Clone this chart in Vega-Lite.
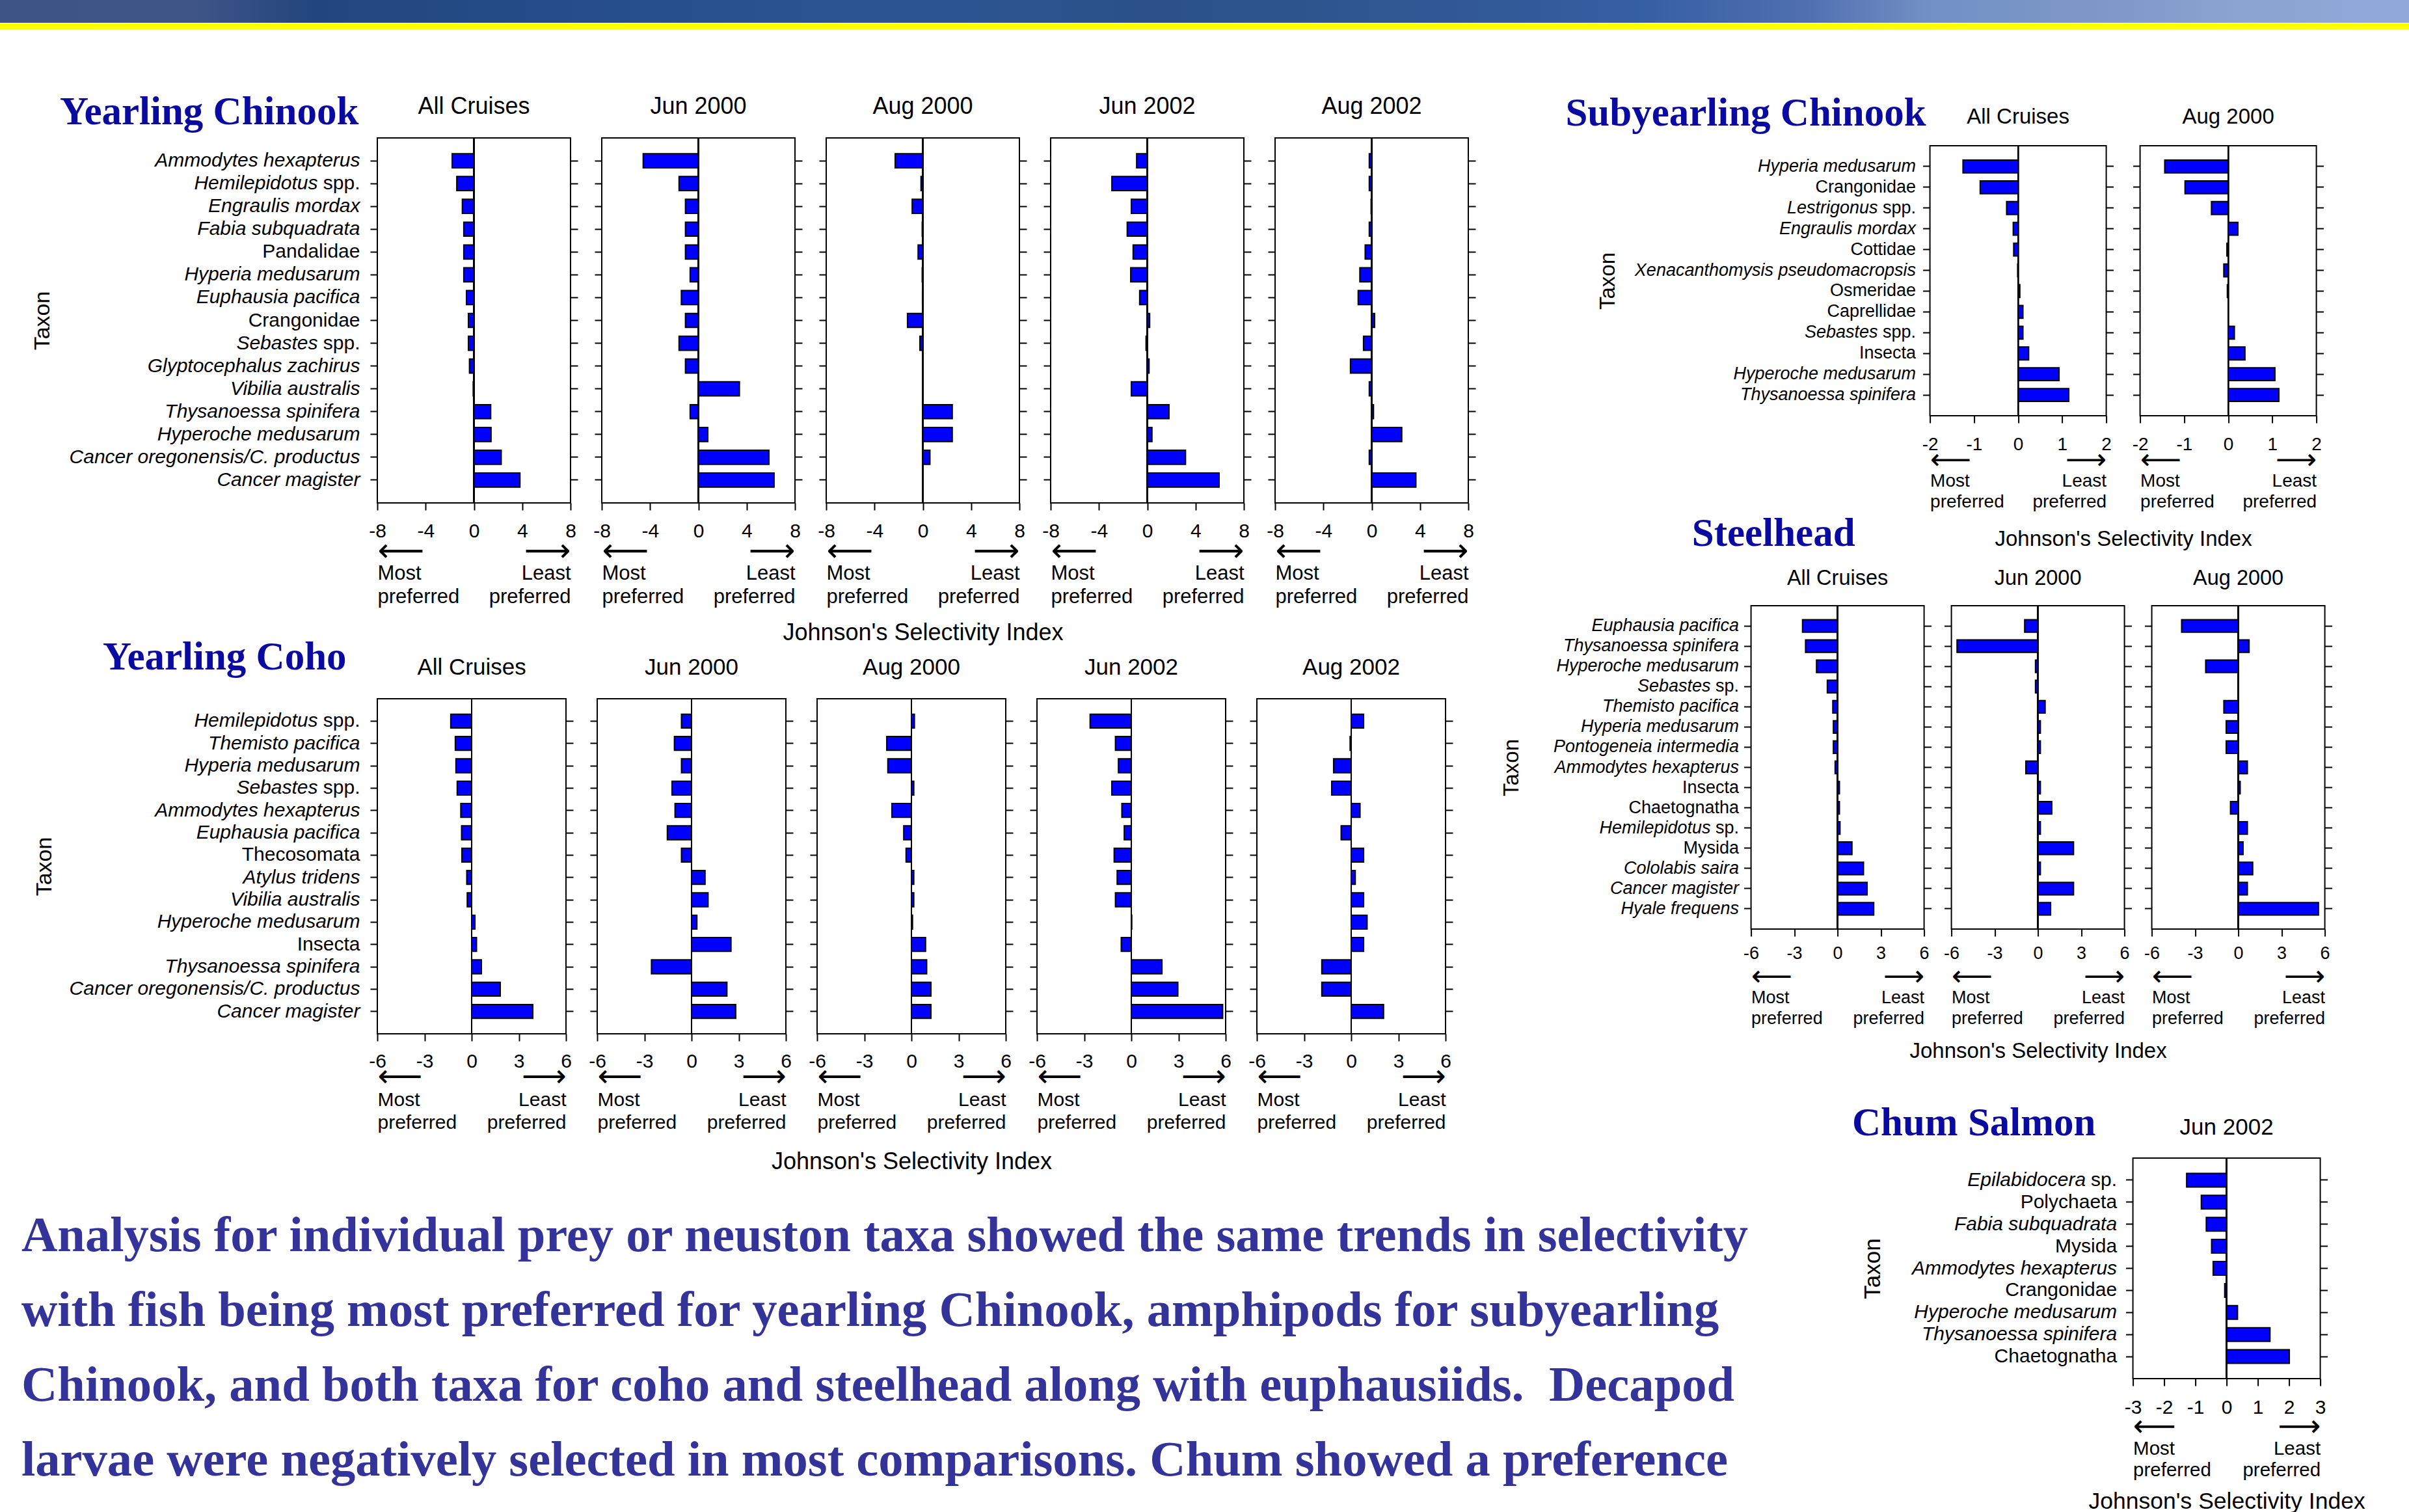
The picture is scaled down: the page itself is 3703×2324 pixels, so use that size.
{
  "$schema": "https://vega.github.io/schema/vega-lite/v6.json",
  "padding": 0,
  "background": "white",
  "config": {
    "view": {"stroke": "black", "strokeWidth": 2},
    "font": "Liberation Sans",
    "axis": {"domain": false, "grid": false, "ticks": true, "tickColor": "black", "tickWidth": 2, "tickSize": 11, "labelColor": "black", "labelFont": "Liberation Sans", "labelLimit": 0, "labelOverlap": false, "labelBound": false, "maxExtent": 1000, "titleFont": "Liberation Sans", "titleFontWeight": "normal", "titleColor": "black"},
    "title": {"font": "Liberation Sans", "fontWeight": "normal", "color": "black", "frame": "group", "anchor": "middle"},
    "scale": {"bandPaddingInner": 0.38, "barBandPaddingInner": 0.38, "bandPaddingOuter": 0.69}
  },
  "datasets": {
    "yearlingChinook": [
      {"cruise": "All Cruises", "taxon": "Ammodytes hexapterus", "jsi": -1.80},
      {"cruise": "All Cruises", "taxon": "Hemilepidotus spp.", "jsi": -1.42},
      {"cruise": "All Cruises", "taxon": "Engraulis mordax", "jsi": -0.96},
      {"cruise": "All Cruises", "taxon": "Fabia subquadrata", "jsi": -0.84},
      {"cruise": "All Cruises", "taxon": "Pandalidae", "jsi": -0.84},
      {"cruise": "All Cruises", "taxon": "Hyperia medusarum", "jsi": -0.84},
      {"cruise": "All Cruises", "taxon": "Euphausia pacifica", "jsi": -0.62},
      {"cruise": "All Cruises", "taxon": "Crangonidae", "jsi": -0.46},
      {"cruise": "All Cruises", "taxon": "Sebastes spp.", "jsi": -0.46},
      {"cruise": "All Cruises", "taxon": "Glyptocephalus zachirus", "jsi": -0.37},
      {"cruise": "All Cruises", "taxon": "Vibilia australis", "jsi": -0.06},
      {"cruise": "All Cruises", "taxon": "Thysanoessa spinifera", "jsi": 1.39},
      {"cruise": "All Cruises", "taxon": "Hyperoche medusarum", "jsi": 1.42},
      {"cruise": "All Cruises", "taxon": "Cancer oregonensis/C. productus", "jsi": 2.26},
      {"cruise": "All Cruises", "taxon": "Cancer magister", "jsi": 3.81},
      {"cruise": "Jun 2000", "taxon": "Ammodytes hexapterus", "jsi": -4.57},
      {"cruise": "Jun 2000", "taxon": "Hemilepidotus spp.", "jsi": -1.60},
      {"cruise": "Jun 2000", "taxon": "Engraulis mordax", "jsi": -1.07},
      {"cruise": "Jun 2000", "taxon": "Fabia subquadrata", "jsi": -1.07},
      {"cruise": "Jun 2000", "taxon": "Pandalidae", "jsi": -1.07},
      {"cruise": "Jun 2000", "taxon": "Hyperia medusarum", "jsi": -0.68},
      {"cruise": "Jun 2000", "taxon": "Euphausia pacifica", "jsi": -1.41},
      {"cruise": "Jun 2000", "taxon": "Crangonidae", "jsi": -1.07},
      {"cruise": "Jun 2000", "taxon": "Sebastes spp.", "jsi": -1.60},
      {"cruise": "Jun 2000", "taxon": "Glyptocephalus zachirus", "jsi": -1.07},
      {"cruise": "Jun 2000", "taxon": "Vibilia australis", "jsi": 3.40},
      {"cruise": "Jun 2000", "taxon": "Thysanoessa spinifera", "jsi": -0.68},
      {"cruise": "Jun 2000", "taxon": "Hyperoche medusarum", "jsi": 0.78},
      {"cruise": "Jun 2000", "taxon": "Cancer oregonensis/C. productus", "jsi": 5.84},
      {"cruise": "Jun 2000", "taxon": "Cancer magister", "jsi": 6.27},
      {"cruise": "Aug 2000", "taxon": "Ammodytes hexapterus", "jsi": -2.29},
      {"cruise": "Aug 2000", "taxon": "Hemilepidotus spp.", "jsi": -0.15},
      {"cruise": "Aug 2000", "taxon": "Engraulis mordax", "jsi": -0.88},
      {"cruise": "Aug 2000", "taxon": "Fabia subquadrata", "jsi": -0.05},
      {"cruise": "Aug 2000", "taxon": "Pandalidae", "jsi": -0.39},
      {"cruise": "Aug 2000", "taxon": "Hyperia medusarum", "jsi": -0.05},
      {"cruise": "Aug 2000", "taxon": "Euphausia pacifica", "jsi": -0.03},
      {"cruise": "Aug 2000", "taxon": "Crangonidae", "jsi": -1.27},
      {"cruise": "Aug 2000", "taxon": "Sebastes spp.", "jsi": -0.24},
      {"cruise": "Aug 2000", "taxon": "Glyptocephalus zachirus", "jsi": 0.0},
      {"cruise": "Aug 2000", "taxon": "Vibilia australis", "jsi": 0.0},
      {"cruise": "Aug 2000", "taxon": "Thysanoessa spinifera", "jsi": 2.44},
      {"cruise": "Aug 2000", "taxon": "Hyperoche medusarum", "jsi": 2.44},
      {"cruise": "Aug 2000", "taxon": "Cancer oregonensis/C. productus", "jsi": 0.59},
      {"cruise": "Aug 2000", "taxon": "Cancer magister", "jsi": 0.02},
      {"cruise": "Jun 2002", "taxon": "Ammodytes hexapterus", "jsi": -0.88},
      {"cruise": "Jun 2002", "taxon": "Hemilepidotus spp.", "jsi": -2.93},
      {"cruise": "Jun 2002", "taxon": "Engraulis mordax", "jsi": -1.32},
      {"cruise": "Jun 2002", "taxon": "Fabia subquadrata", "jsi": -1.66},
      {"cruise": "Jun 2002", "taxon": "Pandalidae", "jsi": -1.17},
      {"cruise": "Jun 2002", "taxon": "Hyperia medusarum", "jsi": -1.37},
      {"cruise": "Jun 2002", "taxon": "Euphausia pacifica", "jsi": -0.63},
      {"cruise": "Jun 2002", "taxon": "Crangonidae", "jsi": 0.20},
      {"cruise": "Jun 2002", "taxon": "Sebastes spp.", "jsi": -0.10},
      {"cruise": "Jun 2002", "taxon": "Glyptocephalus zachirus", "jsi": 0.15},
      {"cruise": "Jun 2002", "taxon": "Vibilia australis", "jsi": -1.32},
      {"cruise": "Jun 2002", "taxon": "Thysanoessa spinifera", "jsi": 1.80},
      {"cruise": "Jun 2002", "taxon": "Hyperoche medusarum", "jsi": 0.39},
      {"cruise": "Jun 2002", "taxon": "Cancer oregonensis/C. productus", "jsi": 3.17},
      {"cruise": "Jun 2002", "taxon": "Cancer magister", "jsi": 5.95},
      {"cruise": "Aug 2002", "taxon": "Ammodytes hexapterus", "jsi": -0.20},
      {"cruise": "Aug 2002", "taxon": "Hemilepidotus spp.", "jsi": -0.20},
      {"cruise": "Aug 2002", "taxon": "Engraulis mordax", "jsi": -0.05},
      {"cruise": "Aug 2002", "taxon": "Fabia subquadrata", "jsi": -0.20},
      {"cruise": "Aug 2002", "taxon": "Pandalidae", "jsi": -0.54},
      {"cruise": "Aug 2002", "taxon": "Hyperia medusarum", "jsi": -0.98},
      {"cruise": "Aug 2002", "taxon": "Euphausia pacifica", "jsi": -1.12},
      {"cruise": "Aug 2002", "taxon": "Crangonidae", "jsi": 0.24},
      {"cruise": "Aug 2002", "taxon": "Sebastes spp.", "jsi": -0.68},
      {"cruise": "Aug 2002", "taxon": "Glyptocephalus zachirus", "jsi": -1.76},
      {"cruise": "Aug 2002", "taxon": "Vibilia australis", "jsi": -0.20},
      {"cruise": "Aug 2002", "taxon": "Thysanoessa spinifera", "jsi": 0.15},
      {"cruise": "Aug 2002", "taxon": "Hyperoche medusarum", "jsi": 2.49},
      {"cruise": "Aug 2002", "taxon": "Cancer oregonensis/C. productus", "jsi": -0.20},
      {"cruise": "Aug 2002", "taxon": "Cancer magister", "jsi": 3.66}
    ],
    "yearlingCoho": [
      {"cruise": "All Cruises", "taxon": "Hemilepidotus spp.", "jsi": -1.33},
      {"cruise": "All Cruises", "taxon": "Themisto pacifica", "jsi": -1.04},
      {"cruise": "All Cruises", "taxon": "Hyperia medusarum", "jsi": -1.00},
      {"cruise": "All Cruises", "taxon": "Sebastes spp.", "jsi": -0.92},
      {"cruise": "All Cruises", "taxon": "Ammodytes hexapterus", "jsi": -0.69},
      {"cruise": "All Cruises", "taxon": "Euphausia pacifica", "jsi": -0.64},
      {"cruise": "All Cruises", "taxon": "Thecosomata", "jsi": -0.62},
      {"cruise": "All Cruises", "taxon": "Atylus tridens", "jsi": -0.31},
      {"cruise": "All Cruises", "taxon": "Vibilia australis", "jsi": -0.28},
      {"cruise": "All Cruises", "taxon": "Hyperoche medusarum", "jsi": 0.21},
      {"cruise": "All Cruises", "taxon": "Insecta", "jsi": 0.31},
      {"cruise": "All Cruises", "taxon": "Thysanoessa spinifera", "jsi": 0.62},
      {"cruise": "All Cruises", "taxon": "Cancer oregonensis/C. productus", "jsi": 1.82},
      {"cruise": "All Cruises", "taxon": "Cancer magister", "jsi": 3.89},
      {"cruise": "Jun 2000", "taxon": "Hemilepidotus spp.", "jsi": -0.64},
      {"cruise": "Jun 2000", "taxon": "Themisto pacifica", "jsi": -1.09},
      {"cruise": "Jun 2000", "taxon": "Hyperia medusarum", "jsi": -0.64},
      {"cruise": "Jun 2000", "taxon": "Sebastes spp.", "jsi": -1.24},
      {"cruise": "Jun 2000", "taxon": "Ammodytes hexapterus", "jsi": -1.05},
      {"cruise": "Jun 2000", "taxon": "Euphausia pacifica", "jsi": -1.54},
      {"cruise": "Jun 2000", "taxon": "Thecosomata", "jsi": -0.64},
      {"cruise": "Jun 2000", "taxon": "Atylus tridens", "jsi": 0.86},
      {"cruise": "Jun 2000", "taxon": "Vibilia australis", "jsi": 1.05},
      {"cruise": "Jun 2000", "taxon": "Hyperoche medusarum", "jsi": 0.34},
      {"cruise": "Jun 2000", "taxon": "Insecta", "jsi": 2.51},
      {"cruise": "Jun 2000", "taxon": "Thysanoessa spinifera", "jsi": -2.55},
      {"cruise": "Jun 2000", "taxon": "Cancer oregonensis/C. productus", "jsi": 2.25},
      {"cruise": "Jun 2000", "taxon": "Cancer magister", "jsi": 2.81},
      {"cruise": "Aug 2000", "taxon": "Hemilepidotus spp.", "jsi": 0.19},
      {"cruise": "Aug 2000", "taxon": "Themisto pacifica", "jsi": -1.57},
      {"cruise": "Aug 2000", "taxon": "Hyperia medusarum", "jsi": -1.50},
      {"cruise": "Aug 2000", "taxon": "Sebastes spp.", "jsi": 0.15},
      {"cruise": "Aug 2000", "taxon": "Ammodytes hexapterus", "jsi": -1.24},
      {"cruise": "Aug 2000", "taxon": "Euphausia pacifica", "jsi": -0.49},
      {"cruise": "Aug 2000", "taxon": "Thecosomata", "jsi": -0.34},
      {"cruise": "Aug 2000", "taxon": "Atylus tridens", "jsi": 0.15},
      {"cruise": "Aug 2000", "taxon": "Vibilia australis", "jsi": 0.15},
      {"cruise": "Aug 2000", "taxon": "Hyperoche medusarum", "jsi": 0.07},
      {"cruise": "Aug 2000", "taxon": "Insecta", "jsi": 0.90},
      {"cruise": "Aug 2000", "taxon": "Thysanoessa spinifera", "jsi": 0.97},
      {"cruise": "Aug 2000", "taxon": "Cancer oregonensis/C. productus", "jsi": 1.24},
      {"cruise": "Aug 2000", "taxon": "Cancer magister", "jsi": 1.24},
      {"cruise": "Jun 2002", "taxon": "Hemilepidotus spp.", "jsi": -2.62},
      {"cruise": "Jun 2002", "taxon": "Themisto pacifica", "jsi": -1.01},
      {"cruise": "Jun 2002", "taxon": "Hyperia medusarum", "jsi": -0.82},
      {"cruise": "Jun 2002", "taxon": "Sebastes spp.", "jsi": -1.24},
      {"cruise": "Jun 2002", "taxon": "Ammodytes hexapterus", "jsi": -0.60},
      {"cruise": "Jun 2002", "taxon": "Euphausia pacifica", "jsi": -0.45},
      {"cruise": "Jun 2002", "taxon": "Thecosomata", "jsi": -1.09},
      {"cruise": "Jun 2002", "taxon": "Atylus tridens", "jsi": -0.90},
      {"cruise": "Jun 2002", "taxon": "Vibilia australis", "jsi": -1.01},
      {"cruise": "Jun 2002", "taxon": "Hyperoche medusarum", "jsi": 0.03},
      {"cruise": "Jun 2002", "taxon": "Insecta", "jsi": -0.64},
      {"cruise": "Jun 2002", "taxon": "Thysanoessa spinifera", "jsi": 1.95},
      {"cruise": "Jun 2002", "taxon": "Cancer oregonensis/C. productus", "jsi": 2.96},
      {"cruise": "Jun 2002", "taxon": "Cancer magister", "jsi": 5.81},
      {"cruise": "Aug 2002", "taxon": "Hemilepidotus spp.", "jsi": 0.79},
      {"cruise": "Aug 2002", "taxon": "Themisto pacifica", "jsi": -0.07},
      {"cruise": "Aug 2002", "taxon": "Hyperia medusarum", "jsi": -1.12},
      {"cruise": "Aug 2002", "taxon": "Sebastes spp.", "jsi": -1.24},
      {"cruise": "Aug 2002", "taxon": "Ammodytes hexapterus", "jsi": 0.56},
      {"cruise": "Aug 2002", "taxon": "Euphausia pacifica", "jsi": -0.64},
      {"cruise": "Aug 2002", "taxon": "Thecosomata", "jsi": 0.79},
      {"cruise": "Aug 2002", "taxon": "Atylus tridens", "jsi": 0.26},
      {"cruise": "Aug 2002", "taxon": "Vibilia australis", "jsi": 0.79},
      {"cruise": "Aug 2002", "taxon": "Hyperoche medusarum", "jsi": 1.01},
      {"cruise": "Aug 2002", "taxon": "Insecta", "jsi": 0.79},
      {"cruise": "Aug 2002", "taxon": "Thysanoessa spinifera", "jsi": -1.87},
      {"cruise": "Aug 2002", "taxon": "Cancer oregonensis/C. productus", "jsi": -1.87},
      {"cruise": "Aug 2002", "taxon": "Cancer magister", "jsi": 2.06}
    ],
    "subyearlingChinook": [
      {"cruise": "All Cruises", "taxon": "Hyperia medusarum", "jsi": -1.25},
      {"cruise": "All Cruises", "taxon": "Crangonidae", "jsi": -0.86},
      {"cruise": "All Cruises", "taxon": "Lestrigonus spp.", "jsi": -0.26},
      {"cruise": "All Cruises", "taxon": "Engraulis mordax", "jsi": -0.11},
      {"cruise": "All Cruises", "taxon": "Cottidae", "jsi": -0.10},
      {"cruise": "All Cruises", "taxon": "Xenacanthomysis pseudomacropsis", "jsi": -0.01},
      {"cruise": "All Cruises", "taxon": "Osmeridae", "jsi": 0.04},
      {"cruise": "All Cruises", "taxon": "Caprellidae", "jsi": 0.11},
      {"cruise": "All Cruises", "taxon": "Sebastes spp.", "jsi": 0.11},
      {"cruise": "All Cruises", "taxon": "Insecta", "jsi": 0.24},
      {"cruise": "All Cruises", "taxon": "Hyperoche medusarum", "jsi": 0.93},
      {"cruise": "All Cruises", "taxon": "Thysanoessa spinifera", "jsi": 1.15},
      {"cruise": "Aug 2000", "taxon": "Hyperia medusarum", "jsi": -1.44},
      {"cruise": "Aug 2000", "taxon": "Crangonidae", "jsi": -0.98},
      {"cruise": "Aug 2000", "taxon": "Lestrigonus spp.", "jsi": -0.38},
      {"cruise": "Aug 2000", "taxon": "Engraulis mordax", "jsi": 0.22},
      {"cruise": "Aug 2000", "taxon": "Cottidae", "jsi": -0.03},
      {"cruise": "Aug 2000", "taxon": "Xenacanthomysis pseudomacropsis", "jsi": -0.10},
      {"cruise": "Aug 2000", "taxon": "Osmeridae", "jsi": -0.02},
      {"cruise": "Aug 2000", "taxon": "Caprellidae", "jsi": 0.0},
      {"cruise": "Aug 2000", "taxon": "Sebastes spp.", "jsi": 0.14},
      {"cruise": "Aug 2000", "taxon": "Insecta", "jsi": 0.38},
      {"cruise": "Aug 2000", "taxon": "Hyperoche medusarum", "jsi": 1.06},
      {"cruise": "Aug 2000", "taxon": "Thysanoessa spinifera", "jsi": 1.15}
    ],
    "steelhead": [
      {"cruise": "All Cruises", "taxon": "Euphausia pacifica", "jsi": -2.43},
      {"cruise": "All Cruises", "taxon": "Thysanoessa spinifera", "jsi": -2.22},
      {"cruise": "All Cruises", "taxon": "Hyperoche medusarum", "jsi": -1.46},
      {"cruise": "All Cruises", "taxon": "Sebastes sp.", "jsi": -0.71},
      {"cruise": "All Cruises", "taxon": "Themisto pacifica", "jsi": -0.33},
      {"cruise": "All Cruises", "taxon": "Hyperia medusarum", "jsi": -0.29},
      {"cruise": "All Cruises", "taxon": "Pontogeneia intermedia", "jsi": -0.29},
      {"cruise": "All Cruises", "taxon": "Ammodytes hexapterus", "jsi": -0.17},
      {"cruise": "All Cruises", "taxon": "Insecta", "jsi": 0.13},
      {"cruise": "All Cruises", "taxon": "Chaetognatha", "jsi": 0.13},
      {"cruise": "All Cruises", "taxon": "Hemilepidotus sp.", "jsi": 0.17},
      {"cruise": "All Cruises", "taxon": "Mysida", "jsi": 1.00},
      {"cruise": "All Cruises", "taxon": "Cololabis saira", "jsi": 1.80},
      {"cruise": "All Cruises", "taxon": "Cancer magister", "jsi": 2.05},
      {"cruise": "All Cruises", "taxon": "Hyale frequens", "jsi": 2.51},
      {"cruise": "Jun 2000", "taxon": "Euphausia pacifica", "jsi": -0.92},
      {"cruise": "Jun 2000", "taxon": "Thysanoessa spinifera", "jsi": -5.61},
      {"cruise": "Jun 2000", "taxon": "Hyperoche medusarum", "jsi": -0.17},
      {"cruise": "Jun 2000", "taxon": "Sebastes sp.", "jsi": -0.17},
      {"cruise": "Jun 2000", "taxon": "Themisto pacifica", "jsi": 0.50},
      {"cruise": "Jun 2000", "taxon": "Hyperia medusarum", "jsi": 0.17},
      {"cruise": "Jun 2000", "taxon": "Pontogeneia intermedia", "jsi": 0.17},
      {"cruise": "Jun 2000", "taxon": "Ammodytes hexapterus", "jsi": -0.84},
      {"cruise": "Jun 2000", "taxon": "Insecta", "jsi": 0.17},
      {"cruise": "Jun 2000", "taxon": "Chaetognatha", "jsi": 0.96},
      {"cruise": "Jun 2000", "taxon": "Hemilepidotus sp.", "jsi": 0.17},
      {"cruise": "Jun 2000", "taxon": "Mysida", "jsi": 2.47},
      {"cruise": "Jun 2000", "taxon": "Cololabis saira", "jsi": 0.17},
      {"cruise": "Jun 2000", "taxon": "Cancer magister", "jsi": 2.47},
      {"cruise": "Jun 2000", "taxon": "Hyale frequens", "jsi": 0.88},
      {"cruise": "Aug 2000", "taxon": "Euphausia pacifica", "jsi": -3.93},
      {"cruise": "Aug 2000", "taxon": "Thysanoessa spinifera", "jsi": 0.75},
      {"cruise": "Aug 2000", "taxon": "Hyperoche medusarum", "jsi": -2.26},
      {"cruise": "Aug 2000", "taxon": "Sebastes sp.", "jsi": 0.0},
      {"cruise": "Aug 2000", "taxon": "Themisto pacifica", "jsi": -1.00},
      {"cruise": "Aug 2000", "taxon": "Hyperia medusarum", "jsi": -0.84},
      {"cruise": "Aug 2000", "taxon": "Pontogeneia intermedia", "jsi": -0.84},
      {"cruise": "Aug 2000", "taxon": "Ammodytes hexapterus", "jsi": 0.63},
      {"cruise": "Aug 2000", "taxon": "Insecta", "jsi": 0.13},
      {"cruise": "Aug 2000", "taxon": "Chaetognatha", "jsi": -0.54},
      {"cruise": "Aug 2000", "taxon": "Hemilepidotus sp.", "jsi": 0.63},
      {"cruise": "Aug 2000", "taxon": "Mysida", "jsi": 0.33},
      {"cruise": "Aug 2000", "taxon": "Cololabis saira", "jsi": 1.00},
      {"cruise": "Aug 2000", "taxon": "Cancer magister", "jsi": 0.63},
      {"cruise": "Aug 2000", "taxon": "Hyale frequens", "jsi": 5.56}
    ],
    "chumSalmon": [
      {"cruise": "Jun 2002", "taxon": "Epilabidocera sp.", "jsi": -1.28},
      {"cruise": "Jun 2002", "taxon": "Polychaeta", "jsi": -0.81},
      {"cruise": "Jun 2002", "taxon": "Fabia subquadrata", "jsi": -0.65},
      {"cruise": "Jun 2002", "taxon": "Mysida", "jsi": -0.48},
      {"cruise": "Jun 2002", "taxon": "Ammodytes hexapterus", "jsi": -0.43},
      {"cruise": "Jun 2002", "taxon": "Crangonidae", "jsi": -0.06},
      {"cruise": "Jun 2002", "taxon": "Hyperoche medusarum", "jsi": 0.35},
      {"cruise": "Jun 2002", "taxon": "Thysanoessa spinifera", "jsi": 1.39},
      {"cruise": "Jun 2002", "taxon": "Chaetognatha", "jsi": 2.01}
    ]
  },
  "spacing": 97,
  "vconcat": [
    {
      "spacing": 1,
      "vconcat": [
        {"width": 3703, "height": 35, "view": {"stroke": null}, "data": {"values": [{}]},
         "mark": {"type": "rect", "color": {"gradient": "linear", "x1": 0, "y1": 0, "x2": 1, "y2": 0, "stops": [
           {"offset": 0, "color": "#3d5485"}, {"offset": 0.08, "color": "#3f5587"}, {"offset": 0.13, "color": "#22457d"},
           {"offset": 0.25, "color": "#264e8b"}, {"offset": 0.37, "color": "#2b5592"}, {"offset": 0.48, "color": "#2c5189"},
           {"offset": 0.6, "color": "#315894"}, {"offset": 0.68, "color": "#355fa3"}, {"offset": 0.75, "color": "#506fb0"},
           {"offset": 0.8, "color": "#7190c4"}, {"offset": 0.88, "color": "#7f99c8"}, {"offset": 0.93, "color": "#8ba4d2"},
           {"offset": 1, "color": "#90a9d8"}]}},
         "encoding": {}},
        {"width": 3703, "height": 9, "view": {"stroke": null}, "data": {"values": [{}]},
         "mark": {"type": "rect", "color": "#FFFF00"}, "encoding": {}}
      ]
    },
    {
      "title": {
        "text": [
          "Analysis for individual prey or neuston taxa showed the same trends in selectivity",
          "with fish being most preferred for yearling Chinook, amphipods for subyearling",
          "Chinook, and both taxa for coho and steelhead along with euphausiids.\u00a0 Decapod",
          "larvae were negatively selected in most comparisons. Chum showed a preference"
        ],
        "orient": "bottom", "anchor": "start", "frame": "bounds", "offset": 0, "dx": 33, "dy": -465,
        "font": "Liberation Serif", "fontSize": 76.6, "fontWeight": "bold", "color": "#333399", "lineHeight": 115
      },
      "spacing": 0,
      "hconcat": [
        {"width": 47, "height": 1, "view": {"stroke": null}, "data": {"values": []}, "mark": "point"},
        {
          "spacing": 35.6,
          "hconcat": [
            {
              "spacing": -11,
              "vconcat": [
                {
                  "title": {"text": "Yearling Chinook", "orient": "top", "anchor": "start", "frame": "bounds", "offset": 0, "dx": 45, "dy": 59, "font": "Liberation Serif", "fontSize": 61, "fontWeight": "bold", "color": "#0A0AA0"},
                  "bounds": "flush",
                  "spacing": 48,
                  "hconcat": [
                    {
                      "width": 297, "height": 561,
                      "title": {"text": "All Cruises", "fontSize": 36, "offset": 28},
                      "data": {"name": "yearlingChinook"},
                      "transform": [{"filter": "datum.cruise == 'All Cruises'"}],
                      "resolve": {"axis": {"x": "independent", "y": "independent"}},
                      "layer": [
                        {"mark": {"type": "rule", "color": "black", "strokeWidth": 2}, "encoding": {"x": {"datum": 0, "type": "quantitative", "axis": null}}},
                        {"mark": {"type": "bar", "fill": "#0000FF", "stroke": "black", "strokeWidth": 2},
                         "encoding": {
                           "y": {"field": "taxon", "type": "nominal", "sort": null, "axis": {"title": "Taxon", "titleFontSize": 34, "titlePadding": 24, "labelFontSize": 30,
                             "labelPadding": {"condition": [{"test": "slice(datum.value, -4) == 'spp.'", "value": 81}, {"test": "slice(datum.value, -3) == 'sp.'", "value": 64}], "value": 16},
                             "labelExpr": "slice(datum.label, -4) == 'spp.' || slice(datum.label, -3) == 'sp.' ? split(datum.label, ' ')[0] : datum.label",
                             "labelFontStyle": {"condition": {"test": "indexof(['Pandalidae','Crangonidae','Thecosomata','Insecta','Cottidae','Osmeridae','Caprellidae','Chaetognatha','Mysida','Polychaeta'], datum.value) >= 0", "value": "normal"}, "value": "italic"}}},
                           "x": {"field": "jsi", "type": "quantitative", "scale": {"domain": [-8, 8], "nice": false}, "axis": {"values": [-8, -4, 0, 4, 8], "labelExpr": "datum.value + ''", "labelFontSize": 30, "labelPadding": 17, "labelFlush": false, "title": null}}
                         }},
                        {"mark": {"type": "bar", "opacity": 0},
                         "encoding": {
                           "y": {"field": "taxon", "type": "nominal", "sort": null, "axis": {"orient": "right", "labels": false, "title": null}},
                           "x": {"field": "jsi", "type": "quantitative", "axis": {"orient": "bottom", "values": [-8, 8], "offset": 74, "ticks": false, "tickSize": 0, "labelPadding": 0, "labelBaseline": "middle", "labelFlush": true, "labelFont": "DejaVu Sans", "labelFontSize": 50, "labelExpr": "datum.value < 0 ? '⟵' : '⟶'", "title": null}}
                         }},
                        {"mark": {"type": "bar", "opacity": 0},
                         "encoding": {
                           "y": {"field": "taxon", "type": "nominal", "sort": null, "axis": {"orient": "left", "tickOpacity": 0, "labelFontSize": 30, "labelPadding": 16, "labelFontStyle": "normal", "labelExpr": "slice(datum.label, -4) == 'spp.' ? 'spp.' : slice(datum.label, -3) == 'sp.' ? 'sp.' : ''", "title": null}},
                           "x": {"field": "jsi", "type": "quantitative", "axis": {"orient": "bottom", "values": [-8, 8], "offset": 108, "ticks": false, "tickSize": 0, "labelPadding": 0, "labelBaseline": "middle", "labelFlush": true, "labelFontSize": 31, "labelLineHeight": 36, "labelExpr": "datum.value < 0 ? ['Most', 'preferred'] : ['Least', 'preferred']", "title": null}}
                         }}
                      ]
                    },
                    {
                      "width": 297, "height": 561,
                      "title": {"text": "Jun 2000", "fontSize": 36, "offset": 28},
                      "data": {"name": "yearlingChinook"},
                      "transform": [{"filter": "datum.cruise == 'Jun 2000'"}],
                      "resolve": {"axis": {"x": "independent", "y": "independent"}},
                      "layer": [
                        {"mark": {"type": "rule", "color": "black", "strokeWidth": 2}, "encoding": {"x": {"datum": 0, "type": "quantitative", "axis": null}}},
                        {"mark": {"type": "bar", "fill": "#0000FF", "stroke": "black", "strokeWidth": 2},
                         "encoding": {
                           "y": {"field": "taxon", "type": "nominal", "sort": null, "axis": {"labels": false, "title": null}},
                           "x": {"field": "jsi", "type": "quantitative", "scale": {"domain": [-8, 8], "nice": false}, "axis": {"values": [-8, -4, 0, 4, 8], "labelExpr": "datum.value + ''", "labelFontSize": 30, "labelPadding": 17, "labelFlush": false, "title": null}}
                         }},
                        {"mark": {"type": "bar", "opacity": 0},
                         "encoding": {
                           "y": {"field": "taxon", "type": "nominal", "sort": null, "axis": {"orient": "right", "labels": false, "title": null}},
                           "x": {"field": "jsi", "type": "quantitative", "axis": {"orient": "bottom", "values": [-8, 8], "offset": 74, "ticks": false, "tickSize": 0, "labelPadding": 0, "labelBaseline": "middle", "labelFlush": true, "labelFont": "DejaVu Sans", "labelFontSize": 50, "labelExpr": "datum.value < 0 ? '⟵' : '⟶'", "title": null}}
                         }},
                        {"mark": {"type": "bar", "opacity": 0},
                         "encoding": {
                           "y": {"field": "taxon", "type": "nominal", "sort": null, "axis": null},
                           "x": {"field": "jsi", "type": "quantitative", "axis": {"orient": "bottom", "values": [-8, 8], "offset": 108, "ticks": false, "tickSize": 0, "labelPadding": 0, "labelBaseline": "middle", "labelFlush": true, "labelFontSize": 31, "labelLineHeight": 36, "labelExpr": "datum.value < 0 ? ['Most', 'preferred'] : ['Least', 'preferred']", "title": null}}
                         }}
                      ]
                    },
                    {
                      "width": 297, "height": 561,
                      "title": {"text": "Aug 2000", "fontSize": 36, "offset": 28},
                      "data": {"name": "yearlingChinook"},
                      "transform": [{"filter": "datum.cruise == 'Aug 2000'"}],
                      "resolve": {"axis": {"x": "independent", "y": "independent"}},
                      "layer": [
                        {"mark": {"type": "rule", "color": "black", "strokeWidth": 2}, "encoding": {"x": {"datum": 0, "type": "quantitative", "axis": null}}},
                        {"mark": {"type": "bar", "fill": "#0000FF", "stroke": "black", "strokeWidth": 2},
                         "encoding": {
                           "y": {"field": "taxon", "type": "nominal", "sort": null, "axis": {"labels": false, "title": null}},
                           "x": {"field": "jsi", "type": "quantitative", "scale": {"domain": [-8, 8], "nice": false}, "axis": {"values": [-8, -4, 0, 4, 8], "labelExpr": "datum.value + ''", "labelFontSize": 30, "labelPadding": 17, "labelFlush": false, "title": "Johnson's Selectivity Index", "titleFontSize": 36, "titlePadding": 124}}
                         }},
                        {"mark": {"type": "bar", "opacity": 0},
                         "encoding": {
                           "y": {"field": "taxon", "type": "nominal", "sort": null, "axis": {"orient": "right", "labels": false, "title": null}},
                           "x": {"field": "jsi", "type": "quantitative", "axis": {"orient": "bottom", "values": [-8, 8], "offset": 74, "ticks": false, "tickSize": 0, "labelPadding": 0, "labelBaseline": "middle", "labelFlush": true, "labelFont": "DejaVu Sans", "labelFontSize": 50, "labelExpr": "datum.value < 0 ? '⟵' : '⟶'", "title": null}}
                         }},
                        {"mark": {"type": "bar", "opacity": 0},
                         "encoding": {
                           "y": {"field": "taxon", "type": "nominal", "sort": null, "axis": null},
                           "x": {"field": "jsi", "type": "quantitative", "axis": {"orient": "bottom", "values": [-8, 8], "offset": 108, "ticks": false, "tickSize": 0, "labelPadding": 0, "labelBaseline": "middle", "labelFlush": true, "labelFontSize": 31, "labelLineHeight": 36, "labelExpr": "datum.value < 0 ? ['Most', 'preferred'] : ['Least', 'preferred']", "title": null}}
                         }}
                      ]
                    },
                    {
                      "width": 297, "height": 561,
                      "title": {"text": "Jun 2002", "fontSize": 36, "offset": 28},
                      "data": {"name": "yearlingChinook"},
                      "transform": [{"filter": "datum.cruise == 'Jun 2002'"}],
                      "resolve": {"axis": {"x": "independent", "y": "independent"}},
                      "layer": [
                        {"mark": {"type": "rule", "color": "black", "strokeWidth": 2}, "encoding": {"x": {"datum": 0, "type": "quantitative", "axis": null}}},
                        {"mark": {"type": "bar", "fill": "#0000FF", "stroke": "black", "strokeWidth": 2},
                         "encoding": {
                           "y": {"field": "taxon", "type": "nominal", "sort": null, "axis": {"labels": false, "title": null}},
                           "x": {"field": "jsi", "type": "quantitative", "scale": {"domain": [-8, 8], "nice": false}, "axis": {"values": [-8, -4, 0, 4, 8], "labelExpr": "datum.value + ''", "labelFontSize": 30, "labelPadding": 17, "labelFlush": false, "title": null}}
                         }},
                        {"mark": {"type": "bar", "opacity": 0},
                         "encoding": {
                           "y": {"field": "taxon", "type": "nominal", "sort": null, "axis": {"orient": "right", "labels": false, "title": null}},
                           "x": {"field": "jsi", "type": "quantitative", "axis": {"orient": "bottom", "values": [-8, 8], "offset": 74, "ticks": false, "tickSize": 0, "labelPadding": 0, "labelBaseline": "middle", "labelFlush": true, "labelFont": "DejaVu Sans", "labelFontSize": 50, "labelExpr": "datum.value < 0 ? '⟵' : '⟶'", "title": null}}
                         }},
                        {"mark": {"type": "bar", "opacity": 0},
                         "encoding": {
                           "y": {"field": "taxon", "type": "nominal", "sort": null, "axis": null},
                           "x": {"field": "jsi", "type": "quantitative", "axis": {"orient": "bottom", "values": [-8, 8], "offset": 108, "ticks": false, "tickSize": 0, "labelPadding": 0, "labelBaseline": "middle", "labelFlush": true, "labelFontSize": 31, "labelLineHeight": 36, "labelExpr": "datum.value < 0 ? ['Most', 'preferred'] : ['Least', 'preferred']", "title": null}}
                         }}
                      ]
                    },
                    {
                      "width": 297, "height": 561,
                      "title": {"text": "Aug 2002", "fontSize": 36, "offset": 28},
                      "data": {"name": "yearlingChinook"},
                      "transform": [{"filter": "datum.cruise == 'Aug 2002'"}],
                      "resolve": {"axis": {"x": "independent", "y": "independent"}},
                      "layer": [
                        {"mark": {"type": "rule", "color": "black", "strokeWidth": 2}, "encoding": {"x": {"datum": 0, "type": "quantitative", "axis": null}}},
                        {"mark": {"type": "bar", "fill": "#0000FF", "stroke": "black", "strokeWidth": 2},
                         "encoding": {
                           "y": {"field": "taxon", "type": "nominal", "sort": null, "axis": {"labels": false, "title": null}},
                           "x": {"field": "jsi", "type": "quantitative", "scale": {"domain": [-8, 8], "nice": false}, "axis": {"values": [-8, -4, 0, 4, 8], "labelExpr": "datum.value + ''", "labelFontSize": 30, "labelPadding": 17, "labelFlush": false, "title": null}}
                         }},
                        {"mark": {"type": "bar", "opacity": 0},
                         "encoding": {
                           "y": {"field": "taxon", "type": "nominal", "sort": null, "axis": {"orient": "right", "labels": false, "title": null}},
                           "x": {"field": "jsi", "type": "quantitative", "axis": {"orient": "bottom", "values": [-8, 8], "offset": 74, "ticks": false, "tickSize": 0, "labelPadding": 0, "labelBaseline": "middle", "labelFlush": true, "labelFont": "DejaVu Sans", "labelFontSize": 50, "labelExpr": "datum.value < 0 ? '⟵' : '⟶'", "title": null}}
                         }},
                        {"mark": {"type": "bar", "opacity": 0},
                         "encoding": {
                           "y": {"field": "taxon", "type": "nominal", "sort": null, "axis": null},
                           "x": {"field": "jsi", "type": "quantitative", "axis": {"orient": "bottom", "values": [-8, 8], "offset": 108, "ticks": false, "tickSize": 0, "labelPadding": 0, "labelBaseline": "middle", "labelFlush": true, "labelFontSize": 31, "labelLineHeight": 36, "labelExpr": "datum.value < 0 ? ['Most', 'preferred'] : ['Least', 'preferred']", "title": null}}
                         }}
                      ]
                    }
                  ]
                },
                {
                  "title": {"text": "Yearling Coho", "orient": "top", "anchor": "start", "frame": "bounds", "offset": 0, "dx": 108, "dy": 34, "font": "Liberation Serif", "fontSize": 61, "fontWeight": "bold", "color": "#0A0AA0"},
                  "bounds": "flush",
                  "spacing": 48,
                  "hconcat": [
                    {
                      "width": 290, "height": 515,
                      "title": {"text": "All Cruises", "fontSize": 35, "offset": 29},
                      "data": {"name": "yearlingCoho"},
                      "transform": [{"filter": "datum.cruise == 'All Cruises'"}],
                      "resolve": {"axis": {"x": "independent", "y": "independent"}},
                      "layer": [
                        {"mark": {"type": "rule", "color": "black", "strokeWidth": 2}, "encoding": {"x": {"datum": 0, "type": "quantitative", "axis": null}}},
                        {"mark": {"type": "bar", "fill": "#0000FF", "stroke": "black", "strokeWidth": 2},
                         "encoding": {
                           "y": {"field": "taxon", "type": "nominal", "sort": null, "axis": {"title": "Taxon", "titleFontSize": 34, "titlePadding": 21, "labelFontSize": 30,
                             "labelPadding": {"condition": [{"test": "slice(datum.value, -4) == 'spp.'", "value": 81}, {"test": "slice(datum.value, -3) == 'sp.'", "value": 64}], "value": 16},
                             "labelExpr": "slice(datum.label, -4) == 'spp.' || slice(datum.label, -3) == 'sp.' ? split(datum.label, ' ')[0] : datum.label",
                             "labelFontStyle": {"condition": {"test": "indexof(['Pandalidae','Crangonidae','Thecosomata','Insecta','Cottidae','Osmeridae','Caprellidae','Chaetognatha','Mysida','Polychaeta'], datum.value) >= 0", "value": "normal"}, "value": "italic"}}},
                           "x": {"field": "jsi", "type": "quantitative", "scale": {"domain": [-6, 6], "nice": false}, "axis": {"values": [-6, -3, 0, 3, 6], "labelExpr": "datum.value + ''", "labelFontSize": 30, "labelPadding": 16, "labelFlush": false, "title": null}}
                         }},
                        {"mark": {"type": "bar", "opacity": 0},
                         "encoding": {
                           "y": {"field": "taxon", "type": "nominal", "sort": null, "axis": {"orient": "right", "labels": false, "title": null}},
                           "x": {"field": "jsi", "type": "quantitative", "axis": {"orient": "bottom", "values": [-6, 6], "offset": 66, "ticks": false, "tickSize": 0, "labelPadding": 0, "labelBaseline": "middle", "labelFlush": true, "labelFont": "DejaVu Sans", "labelFontSize": 48, "labelExpr": "datum.value < 0 ? '⟵' : '⟶'", "title": null}}
                         }},
                        {"mark": {"type": "bar", "opacity": 0},
                         "encoding": {
                           "y": {"field": "taxon", "type": "nominal", "sort": null, "axis": {"orient": "left", "tickOpacity": 0, "labelFontSize": 30, "labelPadding": 16, "labelFontStyle": "normal", "labelExpr": "slice(datum.label, -4) == 'spp.' ? 'spp.' : slice(datum.label, -3) == 'sp.' ? 'sp.' : ''", "title": null}},
                           "x": {"field": "jsi", "type": "quantitative", "axis": {"orient": "bottom", "values": [-6, 6], "offset": 101, "ticks": false, "tickSize": 0, "labelPadding": 0, "labelBaseline": "middle", "labelFlush": true, "labelFontSize": 30, "labelLineHeight": 35, "labelExpr": "datum.value < 0 ? ['Most', 'preferred'] : ['Least', 'preferred']", "title": null}}
                         }}
                      ]
                    },
                    {
                      "width": 290, "height": 515,
                      "title": {"text": "Jun 2000", "fontSize": 35, "offset": 29},
                      "data": {"name": "yearlingCoho"},
                      "transform": [{"filter": "datum.cruise == 'Jun 2000'"}],
                      "resolve": {"axis": {"x": "independent", "y": "independent"}},
                      "layer": [
                        {"mark": {"type": "rule", "color": "black", "strokeWidth": 2}, "encoding": {"x": {"datum": 0, "type": "quantitative", "axis": null}}},
                        {"mark": {"type": "bar", "fill": "#0000FF", "stroke": "black", "strokeWidth": 2},
                         "encoding": {
                           "y": {"field": "taxon", "type": "nominal", "sort": null, "axis": {"labels": false, "title": null}},
                           "x": {"field": "jsi", "type": "quantitative", "scale": {"domain": [-6, 6], "nice": false}, "axis": {"values": [-6, -3, 0, 3, 6], "labelExpr": "datum.value + ''", "labelFontSize": 30, "labelPadding": 16, "labelFlush": false, "title": null}}
                         }},
                        {"mark": {"type": "bar", "opacity": 0},
                         "encoding": {
                           "y": {"field": "taxon", "type": "nominal", "sort": null, "axis": {"orient": "right", "labels": false, "title": null}},
                           "x": {"field": "jsi", "type": "quantitative", "axis": {"orient": "bottom", "values": [-6, 6], "offset": 66, "ticks": false, "tickSize": 0, "labelPadding": 0, "labelBaseline": "middle", "labelFlush": true, "labelFont": "DejaVu Sans", "labelFontSize": 48, "labelExpr": "datum.value < 0 ? '⟵' : '⟶'", "title": null}}
                         }},
                        {"mark": {"type": "bar", "opacity": 0},
                         "encoding": {
                           "y": {"field": "taxon", "type": "nominal", "sort": null, "axis": null},
                           "x": {"field": "jsi", "type": "quantitative", "axis": {"orient": "bottom", "values": [-6, 6], "offset": 101, "ticks": false, "tickSize": 0, "labelPadding": 0, "labelBaseline": "middle", "labelFlush": true, "labelFontSize": 30, "labelLineHeight": 35, "labelExpr": "datum.value < 0 ? ['Most', 'preferred'] : ['Least', 'preferred']", "title": null}}
                         }}
                      ]
                    },
                    {
                      "width": 290, "height": 515,
                      "title": {"text": "Aug 2000", "fontSize": 35, "offset": 29},
                      "data": {"name": "yearlingCoho"},
                      "transform": [{"filter": "datum.cruise == 'Aug 2000'"}],
                      "resolve": {"axis": {"x": "independent", "y": "independent"}},
                      "layer": [
                        {"mark": {"type": "rule", "color": "black", "strokeWidth": 2}, "encoding": {"x": {"datum": 0, "type": "quantitative", "axis": null}}},
                        {"mark": {"type": "bar", "fill": "#0000FF", "stroke": "black", "strokeWidth": 2},
                         "encoding": {
                           "y": {"field": "taxon", "type": "nominal", "sort": null, "axis": {"labels": false, "title": null}},
                           "x": {"field": "jsi", "type": "quantitative", "scale": {"domain": [-6, 6], "nice": false}, "axis": {"values": [-6, -3, 0, 3, 6], "labelExpr": "datum.value + ''", "labelFontSize": 30, "labelPadding": 16, "labelFlush": false, "title": "Johnson's Selectivity Index", "titleFontSize": 36, "titlePadding": 122}}
                         }},
                        {"mark": {"type": "bar", "opacity": 0},
                         "encoding": {
                           "y": {"field": "taxon", "type": "nominal", "sort": null, "axis": {"orient": "right", "labels": false, "title": null}},
                           "x": {"field": "jsi", "type": "quantitative", "axis": {"orient": "bottom", "values": [-6, 6], "offset": 66, "ticks": false, "tickSize": 0, "labelPadding": 0, "labelBaseline": "middle", "labelFlush": true, "labelFont": "DejaVu Sans", "labelFontSize": 48, "labelExpr": "datum.value < 0 ? '⟵' : '⟶'", "title": null}}
                         }},
                        {"mark": {"type": "bar", "opacity": 0},
                         "encoding": {
                           "y": {"field": "taxon", "type": "nominal", "sort": null, "axis": null},
                           "x": {"field": "jsi", "type": "quantitative", "axis": {"orient": "bottom", "values": [-6, 6], "offset": 101, "ticks": false, "tickSize": 0, "labelPadding": 0, "labelBaseline": "middle", "labelFlush": true, "labelFontSize": 30, "labelLineHeight": 35, "labelExpr": "datum.value < 0 ? ['Most', 'preferred'] : ['Least', 'preferred']", "title": null}}
                         }}
                      ]
                    },
                    {
                      "width": 290, "height": 515,
                      "title": {"text": "Jun 2002", "fontSize": 35, "offset": 29},
                      "data": {"name": "yearlingCoho"},
                      "transform": [{"filter": "datum.cruise == 'Jun 2002'"}],
                      "resolve": {"axis": {"x": "independent", "y": "independent"}},
                      "layer": [
                        {"mark": {"type": "rule", "color": "black", "strokeWidth": 2}, "encoding": {"x": {"datum": 0, "type": "quantitative", "axis": null}}},
                        {"mark": {"type": "bar", "fill": "#0000FF", "stroke": "black", "strokeWidth": 2},
                         "encoding": {
                           "y": {"field": "taxon", "type": "nominal", "sort": null, "axis": {"labels": false, "title": null}},
                           "x": {"field": "jsi", "type": "quantitative", "scale": {"domain": [-6, 6], "nice": false}, "axis": {"values": [-6, -3, 0, 3, 6], "labelExpr": "datum.value + ''", "labelFontSize": 30, "labelPadding": 16, "labelFlush": false, "title": null}}
                         }},
                        {"mark": {"type": "bar", "opacity": 0},
                         "encoding": {
                           "y": {"field": "taxon", "type": "nominal", "sort": null, "axis": {"orient": "right", "labels": false, "title": null}},
                           "x": {"field": "jsi", "type": "quantitative", "axis": {"orient": "bottom", "values": [-6, 6], "offset": 66, "ticks": false, "tickSize": 0, "labelPadding": 0, "labelBaseline": "middle", "labelFlush": true, "labelFont": "DejaVu Sans", "labelFontSize": 48, "labelExpr": "datum.value < 0 ? '⟵' : '⟶'", "title": null}}
                         }},
                        {"mark": {"type": "bar", "opacity": 0},
                         "encoding": {
                           "y": {"field": "taxon", "type": "nominal", "sort": null, "axis": null},
                           "x": {"field": "jsi", "type": "quantitative", "axis": {"orient": "bottom", "values": [-6, 6], "offset": 101, "ticks": false, "tickSize": 0, "labelPadding": 0, "labelBaseline": "middle", "labelFlush": true, "labelFontSize": 30, "labelLineHeight": 35, "labelExpr": "datum.value < 0 ? ['Most', 'preferred'] : ['Least', 'preferred']", "title": null}}
                         }}
                      ]
                    },
                    {
                      "width": 290, "height": 515,
                      "title": {"text": "Aug 2002", "fontSize": 35, "offset": 29},
                      "data": {"name": "yearlingCoho"},
                      "transform": [{"filter": "datum.cruise == 'Aug 2002'"}],
                      "resolve": {"axis": {"x": "independent", "y": "independent"}},
                      "layer": [
                        {"mark": {"type": "rule", "color": "black", "strokeWidth": 2}, "encoding": {"x": {"datum": 0, "type": "quantitative", "axis": null}}},
                        {"mark": {"type": "bar", "fill": "#0000FF", "stroke": "black", "strokeWidth": 2},
                         "encoding": {
                           "y": {"field": "taxon", "type": "nominal", "sort": null, "axis": {"labels": false, "title": null}},
                           "x": {"field": "jsi", "type": "quantitative", "scale": {"domain": [-6, 6], "nice": false}, "axis": {"values": [-6, -3, 0, 3, 6], "labelExpr": "datum.value + ''", "labelFontSize": 30, "labelPadding": 16, "labelFlush": false, "title": null}}
                         }},
                        {"mark": {"type": "bar", "opacity": 0},
                         "encoding": {
                           "y": {"field": "taxon", "type": "nominal", "sort": null, "axis": {"orient": "right", "labels": false, "title": null}},
                           "x": {"field": "jsi", "type": "quantitative", "axis": {"orient": "bottom", "values": [-6, 6], "offset": 66, "ticks": false, "tickSize": 0, "labelPadding": 0, "labelBaseline": "middle", "labelFlush": true, "labelFont": "DejaVu Sans", "labelFontSize": 48, "labelExpr": "datum.value < 0 ? '⟵' : '⟶'", "title": null}}
                         }},
                        {"mark": {"type": "bar", "opacity": 0},
                         "encoding": {
                           "y": {"field": "taxon", "type": "nominal", "sort": null, "axis": null},
                           "x": {"field": "jsi", "type": "quantitative", "axis": {"orient": "bottom", "values": [-6, 6], "offset": 101, "ticks": false, "tickSize": 0, "labelPadding": 0, "labelBaseline": "middle", "labelFlush": true, "labelFontSize": 30, "labelLineHeight": 35, "labelExpr": "datum.value < 0 ? ['Most', 'preferred'] : ['Least', 'preferred']", "title": null}}
                         }}
                      ]
                    }
                  ]
                }
              ]
            },
            {
              "spacing": -69,
              "vconcat": [
                {"width": 1, "height": 1, "view": {"stroke": null}, "data": {"values": []}, "mark": "point"},
                {
                  "spacing": 63,
                  "vconcat": [
                    {
                      "spacing": -57,
                      "vconcat": [
                        {
                          "spacing": -287,
                          "hconcat": [
                            {"width": 1, "height": 1, "view": {"stroke": null}, "data": {"values": []}, "mark": "point"},
                            {
                              "title": {"text": "Subyearling Chinook", "orient": "top", "anchor": "start", "frame": "bounds", "offset": 0, "dx": -48.5, "dy": 43, "font": "Liberation Serif", "fontSize": 61, "fontWeight": "bold", "color": "#0A0AA0"},
                              "bounds": "flush",
                              "spacing": 52,
                              "hconcat": [
                                {
                                  "width": 271, "height": 415,
                                  "title": {"text": "All Cruises", "fontSize": 33, "offset": 26},
                                  "data": {"name": "subyearlingChinook"},
                                  "transform": [{"filter": "datum.cruise == 'All Cruises'"}],
                                  "resolve": {"axis": {"x": "independent", "y": "independent"}},
                                  "layer": [
                                    {"mark": {"type": "rule", "color": "black", "strokeWidth": 2}, "encoding": {"x": {"datum": 0, "type": "quantitative", "axis": null}}},
                                    {"mark": {"type": "bar", "fill": "#0000FF", "stroke": "black", "strokeWidth": 2},
                                     "encoding": {
                                       "y": {"field": "taxon", "type": "nominal", "sort": null, "axis": {"title": "Taxon", "titleFontSize": 33, "titlePadding": 23.5, "labelFontSize": 27,
                                         "labelPadding": {"condition": [{"test": "slice(datum.value, -4) == 'spp.'", "value": 69.5}, {"test": "slice(datum.value, -3) == 'sp.'", "value": 54.5}], "value": 11},
                                         "labelExpr": "slice(datum.label, -4) == 'spp.' || slice(datum.label, -3) == 'sp.' ? split(datum.label, ' ')[0] : datum.label",
                                         "labelFontStyle": {"condition": {"test": "indexof(['Pandalidae','Crangonidae','Thecosomata','Insecta','Cottidae','Osmeridae','Caprellidae','Chaetognatha','Mysida','Polychaeta'], datum.value) >= 0", "value": "normal"}, "value": "italic"}}},
                                       "x": {"field": "jsi", "type": "quantitative", "scale": {"domain": [-2, 2], "nice": false}, "axis": {"values": [-2, -1, 0, 1, 2], "labelExpr": "datum.value + ''", "labelFontSize": 28, "labelPadding": 19, "labelFlush": false, "title": "Johnson's Selectivity Index", "titleFontSize": 33, "titlePadding": 115, "titleX": 297}}
                                     }},
                                    {"mark": {"type": "bar", "opacity": 0},
                                     "encoding": {
                                       "y": {"field": "taxon", "type": "nominal", "sort": null, "axis": {"orient": "right", "labels": false, "title": null}},
                                       "x": {"field": "jsi", "type": "quantitative", "axis": {"orient": "bottom", "values": [-2, 2], "offset": 68, "ticks": false, "tickSize": 0, "labelPadding": 0, "labelBaseline": "middle", "labelFlush": true, "labelFont": "DejaVu Sans", "labelFontSize": 44, "labelExpr": "datum.value < 0 ? '⟵' : '⟶'", "title": null}}
                                     }},
                                    {"mark": {"type": "bar", "opacity": 0},
                                     "encoding": {
                                       "y": {"field": "taxon", "type": "nominal", "sort": null, "axis": {"orient": "left", "tickOpacity": 0, "labelFontSize": 27, "labelPadding": 11, "labelFontStyle": "normal", "labelExpr": "slice(datum.label, -4) == 'spp.' ? 'spp.' : slice(datum.label, -3) == 'sp.' ? 'sp.' : ''", "title": null}},
                                       "x": {"field": "jsi", "type": "quantitative", "axis": {"orient": "bottom", "values": [-2, 2], "offset": 100, "ticks": false, "tickSize": 0, "labelPadding": 0, "labelBaseline": "middle", "labelFlush": true, "labelFontSize": 28, "labelLineHeight": 32, "labelExpr": "datum.value < 0 ? ['Most', 'preferred'] : ['Least', 'preferred']", "title": null}}
                                     }}
                                  ]
                                },
                                {
                                  "width": 271, "height": 415,
                                  "title": {"text": "Aug 2000", "fontSize": 33, "offset": 26},
                                  "data": {"name": "subyearlingChinook"},
                                  "transform": [{"filter": "datum.cruise == 'Aug 2000'"}],
                                  "resolve": {"axis": {"x": "independent", "y": "independent"}},
                                  "layer": [
                                    {"mark": {"type": "rule", "color": "black", "strokeWidth": 2}, "encoding": {"x": {"datum": 0, "type": "quantitative", "axis": null}}},
                                    {"mark": {"type": "bar", "fill": "#0000FF", "stroke": "black", "strokeWidth": 2},
                                     "encoding": {
                                       "y": {"field": "taxon", "type": "nominal", "sort": null, "axis": {"labels": false, "title": null}},
                                       "x": {"field": "jsi", "type": "quantitative", "scale": {"domain": [-2, 2], "nice": false}, "axis": {"values": [-2, -1, 0, 1, 2], "labelExpr": "datum.value + ''", "labelFontSize": 28, "labelPadding": 19, "labelFlush": false, "title": null}}
                                     }},
                                    {"mark": {"type": "bar", "opacity": 0},
                                     "encoding": {
                                       "y": {"field": "taxon", "type": "nominal", "sort": null, "axis": {"orient": "right", "labels": false, "title": null}},
                                       "x": {"field": "jsi", "type": "quantitative", "axis": {"orient": "bottom", "values": [-2, 2], "offset": 68, "ticks": false, "tickSize": 0, "labelPadding": 0, "labelBaseline": "middle", "labelFlush": true, "labelFont": "DejaVu Sans", "labelFontSize": 44, "labelExpr": "datum.value < 0 ? '⟵' : '⟶'", "title": null}}
                                     }},
                                    {"mark": {"type": "bar", "opacity": 0},
                                     "encoding": {
                                       "y": {"field": "taxon", "type": "nominal", "sort": null, "axis": null},
                                       "x": {"field": "jsi", "type": "quantitative", "axis": {"orient": "bottom", "values": [-2, 2], "offset": 100, "ticks": false, "tickSize": 0, "labelPadding": 0, "labelBaseline": "middle", "labelFlush": true, "labelFontSize": 28, "labelLineHeight": 32, "labelExpr": "datum.value < 0 ? ['Most', 'preferred'] : ['Least', 'preferred']", "title": null}}
                                     }}
                                  ]
                                }
                              ]
                            }
                          ]
                        },
                        {
                          "title": {"text": "Steelhead", "orient": "top", "anchor": "start", "frame": "bounds", "offset": 0, "dx": 294.4, "dy": -20, "font": "Liberation Serif", "fontSize": 61, "fontWeight": "bold", "color": "#0A0AA0"},
                          "bounds": "flush",
                          "spacing": 42,
                          "hconcat": [
                            {
                              "width": 266, "height": 497,
                              "title": {"text": "All Cruises", "fontSize": 32.5, "offset": 25},
                              "data": {"name": "steelhead"},
                              "transform": [{"filter": "datum.cruise == 'All Cruises'"}],
                              "resolve": {"axis": {"x": "independent", "y": "independent"}},
                              "layer": [
                                {"mark": {"type": "rule", "color": "black", "strokeWidth": 2}, "encoding": {"x": {"datum": 0, "type": "quantitative", "axis": null}}},
                                {"mark": {"type": "bar", "fill": "#0000FF", "stroke": "black", "strokeWidth": 2},
                                 "encoding": {
                                   "y": {"field": "taxon", "type": "nominal", "sort": null, "axis": {"title": "Taxon", "titleFontSize": 33, "titlePadding": 47, "labelFontSize": 27,
                                     "labelPadding": {"condition": [{"test": "slice(datum.value, -4) == 'spp.'", "value": 66.5}, {"test": "slice(datum.value, -3) == 'sp.'", "value": 51.5}], "value": 8},
                                     "labelExpr": "slice(datum.label, -4) == 'spp.' || slice(datum.label, -3) == 'sp.' ? split(datum.label, ' ')[0] : datum.label",
                                     "labelFontStyle": {"condition": {"test": "indexof(['Pandalidae','Crangonidae','Thecosomata','Insecta','Cottidae','Osmeridae','Caprellidae','Chaetognatha','Mysida','Polychaeta'], datum.value) >= 0", "value": "normal"}, "value": "italic"}}},
                                   "x": {"field": "jsi", "type": "quantitative", "scale": {"domain": [-6, 6], "nice": false}, "axis": {"values": [-6, -3, 0, 3, 6], "labelExpr": "datum.value + ''", "labelFontSize": 27, "labelPadding": 13, "labelFlush": false, "title": null}}
                                 }},
                                {"mark": {"type": "bar", "opacity": 0},
                                 "encoding": {
                                   "y": {"field": "taxon", "type": "nominal", "sort": null, "axis": {"orient": "right", "labels": false, "title": null}},
                                   "x": {"field": "jsi", "type": "quantitative", "axis": {"orient": "bottom", "values": [-6, 6], "offset": 73, "ticks": false, "tickSize": 0, "labelPadding": 0, "labelBaseline": "middle", "labelFlush": true, "labelFont": "DejaVu Sans", "labelFontSize": 44, "labelExpr": "datum.value < 0 ? '⟵' : '⟶'", "title": null}}
                                 }},
                                {"mark": {"type": "bar", "opacity": 0},
                                 "encoding": {
                                   "y": {"field": "taxon", "type": "nominal", "sort": null, "axis": {"orient": "left", "tickOpacity": 0, "labelFontSize": 27, "labelPadding": 8, "labelFontStyle": "normal", "labelExpr": "slice(datum.label, -4) == 'spp.' ? 'spp.' : slice(datum.label, -3) == 'sp.' ? 'sp.' : ''", "title": null}},
                                   "x": {"field": "jsi", "type": "quantitative", "axis": {"orient": "bottom", "values": [-6, 6], "offset": 105, "ticks": false, "tickSize": 0, "labelPadding": 0, "labelBaseline": "middle", "labelFlush": true, "labelFontSize": 27, "labelLineHeight": 32, "labelExpr": "datum.value < 0 ? ['Most', 'preferred'] : ['Least', 'preferred']", "title": null}}
                                 }}
                              ]
                            },
                            {
                              "width": 266, "height": 497,
                              "title": {"text": "Jun 2000", "fontSize": 32.5, "offset": 25},
                              "data": {"name": "steelhead"},
                              "transform": [{"filter": "datum.cruise == 'Jun 2000'"}],
                              "resolve": {"axis": {"x": "independent", "y": "independent"}},
                              "layer": [
                                {"mark": {"type": "rule", "color": "black", "strokeWidth": 2}, "encoding": {"x": {"datum": 0, "type": "quantitative", "axis": null}}},
                                {"mark": {"type": "bar", "fill": "#0000FF", "stroke": "black", "strokeWidth": 2},
                                 "encoding": {
                                   "y": {"field": "taxon", "type": "nominal", "sort": null, "axis": {"labels": false, "title": null}},
                                   "x": {"field": "jsi", "type": "quantitative", "scale": {"domain": [-6, 6], "nice": false}, "axis": {"values": [-6, -3, 0, 3, 6], "labelExpr": "datum.value + ''", "labelFontSize": 27, "labelPadding": 13, "labelFlush": false, "title": "Johnson's Selectivity Index", "titleFontSize": 33, "titlePadding": 121}}
                                 }},
                                {"mark": {"type": "bar", "opacity": 0},
                                 "encoding": {
                                   "y": {"field": "taxon", "type": "nominal", "sort": null, "axis": {"orient": "right", "labels": false, "title": null}},
                                   "x": {"field": "jsi", "type": "quantitative", "axis": {"orient": "bottom", "values": [-6, 6], "offset": 73, "ticks": false, "tickSize": 0, "labelPadding": 0, "labelBaseline": "middle", "labelFlush": true, "labelFont": "DejaVu Sans", "labelFontSize": 44, "labelExpr": "datum.value < 0 ? '⟵' : '⟶'", "title": null}}
                                 }},
                                {"mark": {"type": "bar", "opacity": 0},
                                 "encoding": {
                                   "y": {"field": "taxon", "type": "nominal", "sort": null, "axis": null},
                                   "x": {"field": "jsi", "type": "quantitative", "axis": {"orient": "bottom", "values": [-6, 6], "offset": 105, "ticks": false, "tickSize": 0, "labelPadding": 0, "labelBaseline": "middle", "labelFlush": true, "labelFontSize": 27, "labelLineHeight": 32, "labelExpr": "datum.value < 0 ? ['Most', 'preferred'] : ['Least', 'preferred']", "title": null}}
                                 }}
                              ]
                            },
                            {
                              "width": 266, "height": 497,
                              "title": {"text": "Aug 2000", "fontSize": 32.5, "offset": 25},
                              "data": {"name": "steelhead"},
                              "transform": [{"filter": "datum.cruise == 'Aug 2000'"}],
                              "resolve": {"axis": {"x": "independent", "y": "independent"}},
                              "layer": [
                                {"mark": {"type": "rule", "color": "black", "strokeWidth": 2}, "encoding": {"x": {"datum": 0, "type": "quantitative", "axis": null}}},
                                {"mark": {"type": "bar", "fill": "#0000FF", "stroke": "black", "strokeWidth": 2},
                                 "encoding": {
                                   "y": {"field": "taxon", "type": "nominal", "sort": null, "axis": {"labels": false, "title": null}},
                                   "x": {"field": "jsi", "type": "quantitative", "scale": {"domain": [-6, 6], "nice": false}, "axis": {"values": [-6, -3, 0, 3, 6], "labelExpr": "datum.value + ''", "labelFontSize": 27, "labelPadding": 13, "labelFlush": false, "title": null}}
                                 }},
                                {"mark": {"type": "bar", "opacity": 0},
                                 "encoding": {
                                   "y": {"field": "taxon", "type": "nominal", "sort": null, "axis": {"orient": "right", "labels": false, "title": null}},
                                   "x": {"field": "jsi", "type": "quantitative", "axis": {"orient": "bottom", "values": [-6, 6], "offset": 73, "ticks": false, "tickSize": 0, "labelPadding": 0, "labelBaseline": "middle", "labelFlush": true, "labelFont": "DejaVu Sans", "labelFontSize": 44, "labelExpr": "datum.value < 0 ? '⟵' : '⟶'", "title": null}}
                                 }},
                                {"mark": {"type": "bar", "opacity": 0},
                                 "encoding": {
                                   "y": {"field": "taxon", "type": "nominal", "sort": null, "axis": null},
                                   "x": {"field": "jsi", "type": "quantitative", "axis": {"orient": "bottom", "values": [-6, 6], "offset": 105, "ticks": false, "tickSize": 0, "labelPadding": 0, "labelBaseline": "middle", "labelFlush": true, "labelFontSize": 27, "labelLineHeight": 32, "labelExpr": "datum.value < 0 ? ['Most', 'preferred'] : ['Least', 'preferred']", "title": null}}
                                 }}
                              ]
                            }
                          ]
                        }
                      ]
                    },
                    {
                      "spacing": 0,
                      "hconcat": [
                        {"width": 155, "height": 1, "view": {"stroke": null}, "data": {"values": []}, "mark": "point"},
                        {
                          "title": {"text": "Chum Salmon", "orient": "top", "anchor": "start", "frame": "bounds", "offset": 0, "dx": -13.5, "dy": 43, "font": "Liberation Serif", "fontSize": 61, "fontWeight": "bold", "color": "#0A0AA0"},
                          "bounds": "flush",
                          "hconcat": [
                            {
                              "width": 288, "height": 339,
                              "title": {"text": "Jun 2002", "fontSize": 35, "offset": 28},
                              "data": {"name": "chumSalmon"},
                              "transform": [{"filter": "datum.cruise == 'Jun 2002'"}],
                              "resolve": {"axis": {"x": "independent", "y": "independent"}},
                              "layer": [
                                {"mark": {"type": "rule", "color": "black", "strokeWidth": 2}, "encoding": {"x": {"datum": 0, "type": "quantitative", "axis": null}}},
                                {"mark": {"type": "bar", "fill": "#0000FF", "stroke": "black", "strokeWidth": 2},
                                 "encoding": {
                                   "y": {"field": "taxon", "type": "nominal", "sort": null, "axis": {"title": "Taxon", "titleFontSize": 35, "titlePadding": 42, "labelFontSize": 30,
                                     "labelPadding": {"condition": [{"test": "slice(datum.value, -4) == 'spp.'", "value": 79}, {"test": "slice(datum.value, -3) == 'sp.'", "value": 62}], "value": 14},
                                     "labelExpr": "slice(datum.label, -4) == 'spp.' || slice(datum.label, -3) == 'sp.' ? split(datum.label, ' ')[0] : datum.label",
                                     "labelFontStyle": {"condition": {"test": "indexof(['Pandalidae','Crangonidae','Thecosomata','Insecta','Cottidae','Osmeridae','Caprellidae','Chaetognatha','Mysida','Polychaeta'], datum.value) >= 0", "value": "normal"}, "value": "italic"}}},
                                   "x": {"field": "jsi", "type": "quantitative", "scale": {"domain": [-3, 3], "nice": false}, "axis": {"values": [-3, -2, -1, 0, 1, 2, 3], "labelExpr": "datum.value + ''", "labelFontSize": 30, "labelPadding": 18, "labelFlush": false, "title": "Johnson's Selectivity Index", "titleFontSize": 35.5, "titlePadding": 112}}
                                 }},
                                {"mark": {"type": "bar", "opacity": 0},
                                 "encoding": {
                                   "y": {"field": "taxon", "type": "nominal", "sort": null, "axis": {"orient": "right", "labels": false, "title": null}},
                                   "x": {"field": "jsi", "type": "quantitative", "axis": {"orient": "bottom", "values": [-3, 3], "offset": 73, "ticks": false, "tickSize": 0, "labelPadding": 0, "labelBaseline": "middle", "labelFlush": true, "labelFont": "DejaVu Sans", "labelFontSize": 46, "labelExpr": "datum.value < 0 ? '⟵' : '⟶'", "title": null}}
                                 }},
                                {"mark": {"type": "bar", "opacity": 0},
                                 "encoding": {
                                   "y": {"field": "taxon", "type": "nominal", "sort": null, "axis": {"orient": "left", "tickOpacity": 0, "labelFontSize": 30, "labelPadding": 14, "labelFontStyle": "normal", "labelExpr": "slice(datum.label, -4) == 'spp.' ? 'spp.' : slice(datum.label, -3) == 'sp.' ? 'sp.' : ''", "title": null}},
                                   "x": {"field": "jsi", "type": "quantitative", "axis": {"orient": "bottom", "values": [-3, 3], "offset": 107, "ticks": false, "tickSize": 0, "labelPadding": 0, "labelBaseline": "middle", "labelFlush": true, "labelFontSize": 29.5, "labelLineHeight": 33, "labelExpr": "datum.value < 0 ? ['Most', 'preferred'] : ['Least', 'preferred']", "title": null}}
                                 }}
                              ]
                            }
                          ]
                        }
                      ]
                    }
                  ]
                }
              ]
            }
          ]
        }
      ]
    }
  ]
}
